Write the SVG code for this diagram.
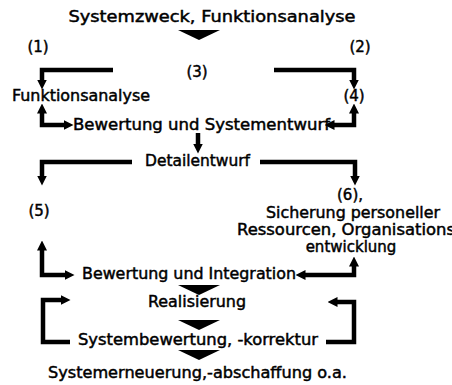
<svg xmlns="http://www.w3.org/2000/svg" width="452" height="385" viewBox="0 0 452 385">
<defs>
<style>
text{font-family:"DejaVu Sans","Liberation Sans",sans-serif;font-size:15px;fill:#000;stroke:#000;stroke-width:0.45}
.c{text-anchor:middle}
.ln{fill:none;stroke:#000;stroke-width:4.5;stroke-linejoin:miter}
.tri{fill:#000}
</style>
<marker id="ah" markerUnits="userSpaceOnUse" markerWidth="10" markerHeight="10" refX="2" refY="4" orient="auto-start-reverse" viewBox="0 0 8 8">
<path d="M0,0 L8,4 L0,8 Z" fill="#000"/>
</marker>
</defs>
<rect width="452" height="385" fill="#fff"/>
<g id="connectors">
<path class="ln" d="M113,70 H42 V82" marker-end="url(#ah)"/>
<path class="ln" d="M42,111 V125 H66" marker-start="url(#ah)" marker-end="url(#ah)"/>
<path class="ln" d="M274,70 H354 V82" marker-end="url(#ah)"/>
<path class="ln" d="M354,111 V125 H332" marker-start="url(#ah)" marker-end="url(#ah)"/>
<path class="ln" d="M198,133 V146" marker-end="url(#ah)"/>
<path class="ln" d="M132,162 H42 V178" marker-end="url(#ah)"/>
<path class="ln" d="M260,162 H355 V178" marker-end="url(#ah)"/>
<path class="ln" d="M42,248 V275 H67" marker-start="url(#ah)" marker-end="url(#ah)"/>
<path class="ln" d="M354,264 V275 H303" marker-start="url(#ah)" marker-end="url(#ah)"/>
<path class="ln" d="M70,342 H43 V300 H63" marker-end="url(#ah)"/>
<path class="ln" d="M326,342 H354 V302 H335" marker-end="url(#ah)"/>
<polygon class="tri" points="178,30 220,30 199,40"/>
<polygon class="tri" points="178,285 220,285 199,295"/>
<polygon class="tri" points="178,320 220,320 199,330"/>
<polygon class="tri" points="178,350 220,350 199,360"/>
</g>
<g id="title"><text x="212" y="22" class="c" textLength="287" lengthAdjust="spacingAndGlyphs">Systemzweck, Funktionsanalyse</text></g>
<g id="n1"><text x="38" y="52" class="c">(1)</text></g>
<g id="n2"><text x="360" y="52" class="c">(2)</text></g>
<g id="n3"><text x="197" y="77" class="c">(3)</text></g>
<g id="funktionsanalyse"><text x="12" y="101" textLength="138" lengthAdjust="spacingAndGlyphs">Funktionsanalyse</text></g>
<g id="n4"><text x="354" y="101" class="c">(4)</text></g>
<g id="bewertung1"><text x="73" y="130" textLength="257" lengthAdjust="spacingAndGlyphs">Bewertung und Systementwurf</text></g>
<g id="detailentwurf"><text x="145" y="166" textLength="105" lengthAdjust="spacingAndGlyphs">Detailentwurf</text></g>
<g id="n5"><text x="39" y="216" class="c">(5)</text></g>
<g id="n6">
<text x="350" y="200" class="c">(6),</text>
<text x="353" y="218" class="c" textLength="174" lengthAdjust="spacingAndGlyphs">Sicherung personeller</text>
<text x="237" y="235" textLength="218" lengthAdjust="spacingAndGlyphs">Ressourcen,  Organisations</text>
<text x="351" y="252" class="c">entwicklung</text>
</g>
<g id="bewertung2"><text x="82" y="279" textLength="214" lengthAdjust="spacingAndGlyphs">Bewertung und Integration</text></g>
<g id="realisierung"><text x="148" y="307" textLength="98" lengthAdjust="spacingAndGlyphs">Realisierung</text></g>
<g id="systembewertung"><text x="78" y="345" textLength="240" lengthAdjust="spacingAndGlyphs">Systembewertung, -korrektur</text></g>
<g id="systemerneuerung"><text x="48" y="378" textLength="299" lengthAdjust="spacingAndGlyphs">Systemerneuerung,-abschaffung o.a.</text></g>
</svg>
